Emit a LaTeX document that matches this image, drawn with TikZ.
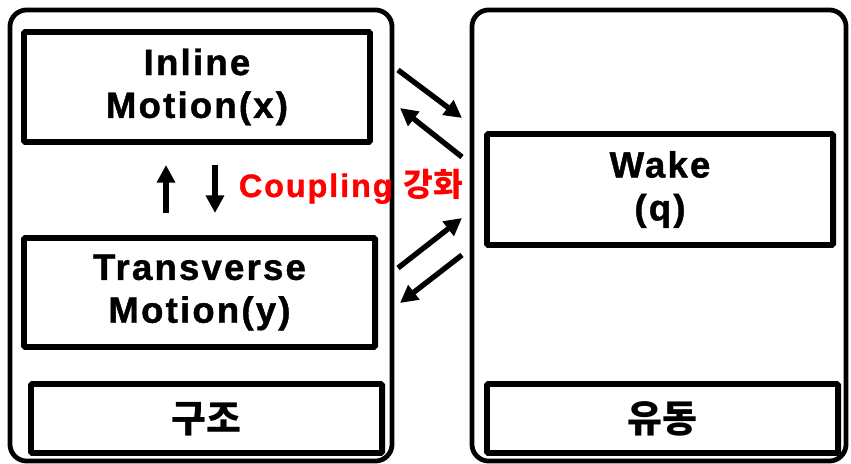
\documentclass[tikz,border=0pt]{standalone}
\usepackage{fontspec}
\setmainfont{Liberation Sans}[LetterSpace=6, BoldFeatures={FakeBold=1.2}]
\newfontfamily\krfont{Noto Sans CJK KR}
\usetikzlibrary{arrows.meta}

\begin{document}
\begin{tikzpicture}[x=0.025cm, y=-0.025cm,
  frame/.style={draw, line width=3.4pt, rounded corners=0.42cm, inner sep=0pt},
  box/.style={draw, line width=4.2pt, rounded corners=1pt, inner sep=0pt, align=center,
    font=\fontsize{26}{30.5}\selectfont\bfseries,
    execute at begin node={\rule{0pt}{0.88em}}},
  flow/.style={line width=3.8pt, -{Triangle[length=4.4mm,width=4.4mm]}}]
\useasboundingbox (0,0) rectangle (851,464);
% structure
\node[frame, minimum width=9.55cm, minimum height=11.275cm] (solid) at (201,235.5) {};
\node[box, minimum width=8.65cm, minimum height=2.75cm] (inline) at (197,87) {Inline\\Motion(x)};
\node[box, minimum width=8.775cm, minimum height=2.725cm] (trans) at (199.5,292.5) {Transverse\\Motion(y)};
\node[box, minimum width=8.775cm, minimum height=1.725cm] (solidlbl) at (206.5,418.5) {\krfont\bfseries\fontsize{27}{30}\selectfont 구조};
% fluid
\node[frame, minimum width=9.35cm, minimum height=11.275cm] (fluid) at (659,235.5) {};
\node[box, minimum width=8.65cm, minimum height=2.775cm] (wake) at (660,189.5) {Wake\\(q)};
\node[box, minimum width=8.775cm, minimum height=1.725cm] (fluidlbl) at (662.5,418.5) {\krfont\bfseries\fontsize{27}{30}\selectfont 유동};
% coupling
\node[anchor=base, text=red, font=\fontsize{23}{25}\selectfont\bfseries] (coup) at (351,197) {Coupling {\krfont 강화}};
\coordinate (up0) at (166,213);
\coordinate (up1) at (166,165);
\coordinate (dn0) at (215,165);
\coordinate (dn1) at (215,213);
\draw[flow] (up0) -- (up1);
\draw[flow] (dn0) -- (dn1);
% exchange between solid and fluid
\coordinate (a0) at (398,70);
\coordinate (a1) at (462,118);
\coordinate (b0) at (462,157);
\coordinate (b1) at (400,108);
\coordinate (c0) at (398,268);
\coordinate (c1) at (462,218);
\coordinate (d0) at (462,255);
\coordinate (d1) at (400,303);
\draw[flow] (a0) -- (a1);
\draw[flow] (b0) -- (b1);
\draw[flow] (c0) -- (c1);
\draw[flow] (d0) -- (d1);
\end{tikzpicture}
\end{document}
